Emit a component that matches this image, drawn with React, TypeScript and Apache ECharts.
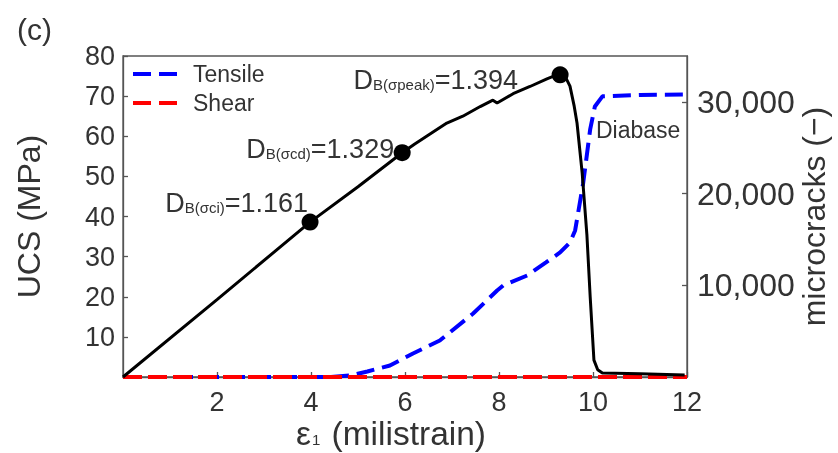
import React, { useEffect, useRef } from 'react';
import * as echarts from 'echarts';

// Stress–strain curve (UCS, MPa) vs axial strain (milistrain)
const strainUCS = [0, 2, 3.98, 5.0, 5.94, 6.2, 6.5, 6.89, 7.23, 7.6, 7.87, 7.96, 8.3, 8.66, 9.02, 9.15, 9.3, 9.42, 9.51, 9.6, 9.66, 9.77, 9.87, 9.94, 10.02, 10.1, 10.2, 11.0, 11.95];
const ucs = [0, 19.3, 38.6, 47.4, 55.9, 58.0, 60.3, 63.3, 65.0, 67.4, 69.0, 68.3, 70.6, 72.4, 74.3, 74.9, 75.3, 74.6, 72.5, 67.5, 63.3, 50.8, 35.5, 20.0, 4.2, 1.8, 1.0, 0.8, 0.5];

// Tensile microcracks vs strain
const strainTensile = [0, 4.4, 4.83, 5.2, 5.68, 6.17, 6.74, 7.45, 7.96, 8.09, 8.6, 9.0, 9.3, 9.51, 9.62, 9.79, 9.94, 10.04, 10.2, 11.0, 12.0];
const tensile = [0, 0, 160, 600, 1250, 2560, 3980, 6920, 9430, 9980, 11070, 12500, 13580, 14670, 15980, 21100, 27000, 29500, 30600, 30750, 30800];

// Shear microcracks vs strain
const strainShear = [0, 4, 8, 12];
const shear = [0, 0, 0, 0];

// Characteristic points
const markX = [3.98, 5.94, 9.3];
const markY = [38.6, 55.9, 75.3];
const markSub = ['B(σci)', 'B(σcd)', 'B(σpeak)'];
const markVal = ['1.161', '1.329', '1.394'];
const markLabelDistance = [-6.5, -0.5, 33.5];
const markLabelOffsetY = [-19, -4, 5];

const xTicks = { min: 0, max: 12, interval: 2 };
const yLeftTicks = { min: 0, max: 80, interval: 10 };
const yRightTicks = { min: 0, max: 35000, interval: 10000 };

const FONT = '"Liberation Sans", Arial, Helvetica, sans-serif';
const TXT = '#333';
const AXIS = '#555';
const DASH_ICON = 'path://M0,0H18V4H0Z M26,0H44V4H26Z';

export default function App() {
  const ref = useRef<HTMLDivElement>(null);
  useEffect(() => {
    if (!ref.current) return;
    const chart = echarts.init(ref.current, undefined, { renderer: 'svg' });
    const axisCommon = {
      nameMoveOverlap: false,
      axisLine: { show: true, lineStyle: { color: AXIS, width: 1.3 } },
      axisTick: { show: true, inside: true, length: 5, lineStyle: { color: AXIS, width: 1.3 } },
      splitLine: { show: false },
    };
    chart.setOption({
      animation: false,
      textStyle: { fontFamily: FONT },
      title: {
        text: '(c)',
        left: 12,
        top: 9,
        textStyle: { fontSize: 30, fontWeight: 'normal', color: TXT, fontFamily: FONT },
      },
      grid: {
        left: 123,
        right: 151,
        top: 56,
        bottom: 76,
        outerBoundsMode: 'none',
        containLabel: false,
        show: true,
        borderColor: AXIS,
        borderWidth: 1.3,
      },
      legend: {
        data: [
          { name: 'Tensile', icon: DASH_ICON },
          { name: 'Shear', icon: DASH_ICON },
        ],
        orient: 'vertical',
        left: 133,
        top: 62.5,
        padding: 0,
        itemWidth: 44,
        itemHeight: 4,
        itemGap: 6,
        textStyle: { fontSize: 23, color: TXT, lineHeight: 23, fontFamily: FONT, padding: [0, 0, 0, 11] },
      },
      xAxis: {
        type: 'value',
        ...xTicks,
        ...axisCommon,
        axisLabel: { showMinLabel: false, fontSize: 27, color: TXT, margin: 11, fontFamily: FONT },
        name: '{a|ε}{s|1}{a| (milistrain)}',
        nameLocation: 'middle',
        nameGap: 40,
        nameTextStyle: {
          padding: [0, 28, 0, 0],
          rich: {
            a: { fontSize: 33.5, lineHeight: 32, color: TXT, fontFamily: FONT },
            s: { fontSize: 15, lineHeight: 15, color: TXT, fontFamily: FONT, padding: [13, 2, 0, 1] },
          },
        },
      },
      yAxis: [
        {
          type: 'value',
          ...yLeftTicks,
          ...axisCommon,
          axisLabel: { showMinLabel: false, fontSize: 27, color: TXT, margin: 8, fontFamily: FONT },
          name: 'UCS (MPa)',
          nameLocation: 'middle',
          nameGap: 78,
          nameTextStyle: { fontSize: 32, color: TXT, fontFamily: FONT },
        },
        {
          type: 'value',
          position: 'right',
          ...yRightTicks,
          ...axisCommon,
          axisLabel: {
            showMinLabel: false,
            showMaxLabel: false,
            fontSize: 32,
            color: TXT,
            margin: 10,
            fontFamily: FONT,
            formatter: (v: number) => (v === 0 ? '' : v.toLocaleString('en-US')),
          },
          name: 'microcracks (−)',
          nameLocation: 'middle',
          nameGap: 111,
          nameTextStyle: { fontSize: 32, color: TXT, fontFamily: FONT },
        },
      ],
      series: [
        {
          name: 'Tensile',
          type: 'line',
          yAxisIndex: 1,
          symbol: 'none',
          data: strainTensile.map((x, i) => [x, tensile[i]]),
          lineStyle: { color: '#0000ff', width: 4, type: [18, 8] },
          itemStyle: { color: '#0000ff' },
          z: 2,
        },
        {
          name: 'Shear',
          type: 'line',
          yAxisIndex: 1,
          symbol: 'none',
          data: strainShear.map((x, i) => [x, shear[i]]),
          lineStyle: { color: '#ff0000', width: 4, type: [19, 6] },
          itemStyle: { color: '#ff0000' },
          z: 3,
        },
        {
          name: 'UCS',
          type: 'line',
          yAxisIndex: 0,
          symbol: 'none',
          data: strainUCS.map((x, i) => [x, ucs[i]]),
          lineStyle: { color: '#000', width: 3 },
          itemStyle: { color: '#000' },
          z: 4,
          markPoint: {
            symbol: 'circle',
            symbolSize: 0,
            data: [{ coord: [10.96, 61.6], value: 'Diabase' }],
            label: {
              show: true,
              position: 'inside',
              formatter: 'Diabase',
              fontSize: 23,
              color: TXT,
              fontFamily: FONT,
            },
          },
        },
        {
          name: 'points',
          type: 'scatter',
          yAxisIndex: 0,
          symbol: 'circle',
          symbolSize: 17,
          itemStyle: { color: '#000', opacity: 1 },
          z: 5,
          data: markX.map((x, i) => ({
            value: [x, markY[i]],
            label: {
              show: true,
              position: 'left',
              distance: markLabelDistance[i],
              offset: [0, markLabelOffsetY[i]],
              formatter: `{d|D}{s|${markSub[i]}}{d|=${markVal[i]}}`,
              rich: {
                d: { fontSize: 27, color: TXT, fontFamily: FONT },
                s: { fontSize: 15, color: TXT, fontFamily: FONT, padding: [9, 0, 0, 0] },
              },
            },
          })),
        },
      ],
    });
    return () => chart.dispose();
  }, []);
  return <div ref={ref} style={{ position: 'fixed', left: 0, top: 0, width: 838, height: 453 }} />;
}
